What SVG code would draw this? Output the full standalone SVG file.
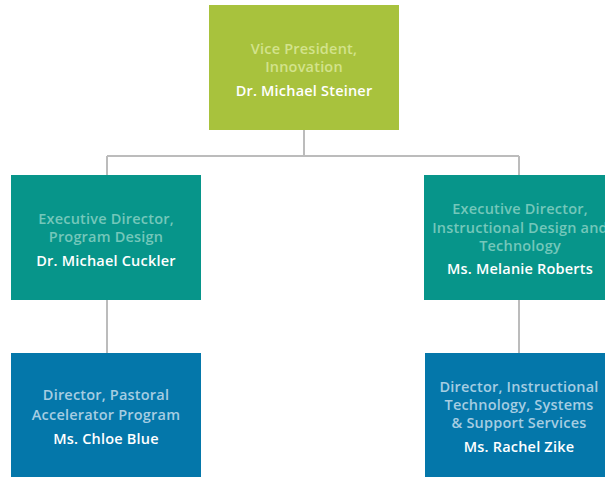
<svg xmlns="http://www.w3.org/2000/svg" width="605" height="477" viewBox="0 0 605 477">
<style>
text{font-family:"Open Sans","Liberation Sans",sans-serif;font-size:14.5px;letter-spacing:0.2px;text-anchor:middle;font-weight:600}
.n{fill:#ffffff}
.g rect{fill:#a8c23d}.g .t{fill:#d3e38c}
.e rect{fill:#07958a}.e .t{fill:#74c7ba}
.b rect{fill:#0477aa}.b .t{fill:#a6cde2}
.c{stroke:#bcbcbc;stroke-width:2;fill:none}
</style>
<rect width="605" height="477" fill="#ffffff"/>
<g id="connectors">
<path class="c" d="M304 130V156M107 156H519M107 156V175M519 156V175M107 300V353M519 300V353"/>
</g>
<g id="vp" class="g">
<rect x="209" y="5" width="190" height="125"/>
<text class="t" x="304" y="54">Vice President,</text>
<text class="t" x="304" y="72">Innovation</text>
<text class="n" x="304" y="96">Dr. Michael Steiner</text>
</g>
<g id="ed-program" class="e">
<rect x="11" y="175" width="190" height="125"/>
<text class="t" x="106" y="224">Executive Director,</text>
<text class="t" x="106" y="242">Program Design</text>
<text class="n" x="106" y="266">Dr. Michael Cuckler</text>
</g>
<g id="ed-instructional" class="e">
<rect x="424" y="175" width="190" height="125"/>
<text class="t" x="520" y="214">Executive Director,</text>
<text class="t" x="520" y="233">Instructional Design and</text>
<text class="t" x="520" y="251">Technology</text>
<text class="n" x="520" y="274">Ms. Melanie Roberts</text>
</g>
<g id="dir-pastoral" class="b">
<rect x="11" y="353" width="190" height="124"/>
<text class="t" x="106" y="400">Director, Pastoral</text>
<text class="t" x="106" y="420">Accelerator Program</text>
<text class="n" x="106" y="444">Ms. Chloe Blue</text>
</g>
<g id="dir-tech" class="b">
<rect x="425" y="353" width="190" height="124"/>
<text class="t" x="519" y="392">Director, Instructional</text>
<text class="t" x="519" y="410">Technology, Systems</text>
<text class="t" x="519" y="428">&amp; Support Services</text>
<text class="n" x="519" y="452">Ms. Rachel Zike</text>
</g>
</svg>
